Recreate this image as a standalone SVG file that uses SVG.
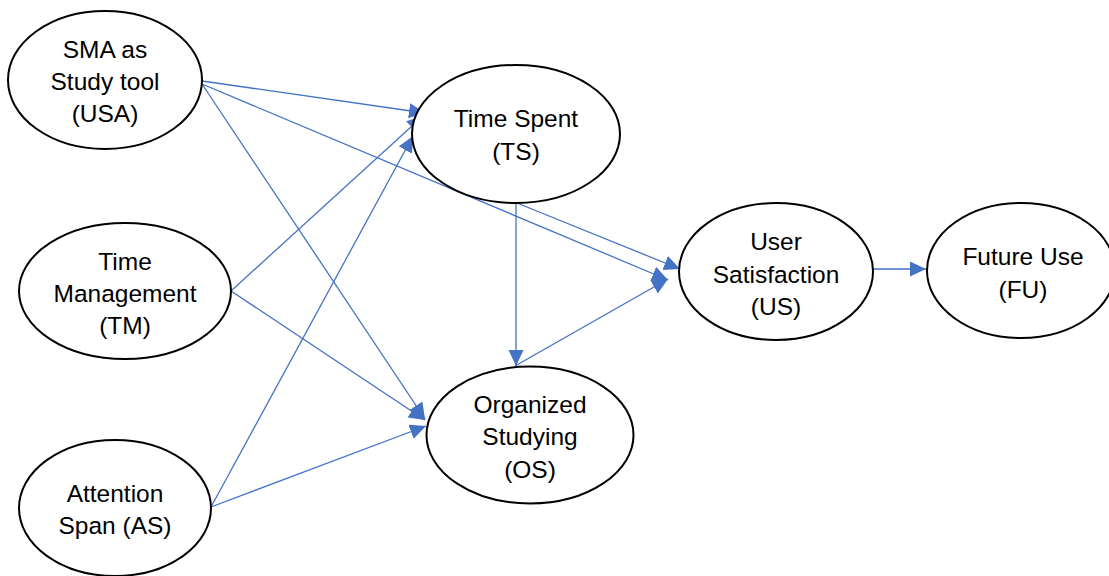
<svg xmlns="http://www.w3.org/2000/svg" width="1109" height="576" viewBox="0 0 1109 576">
<style>
.node ellipse{fill:#fff;stroke:#000;stroke-width:2}
.node text{font-family:"Liberation Sans",Arial,sans-serif;font-size:24.5px;fill:#000;text-anchor:middle}
.edges line{stroke:#4472C4;stroke-width:1.3;fill:none;marker-end:url(#ah)}
</style>
<defs>
<marker id="ah" markerUnits="userSpaceOnUse" markerWidth="17" markerHeight="16" refX="16" refY="7.5" orient="auto">
<path d="M0,0 L16,7.5 L0,15 Z" fill="#4472C4"/>
</marker>
</defs>
<rect width="1109" height="576" fill="#fff"/>
<g class="edges" id="connectors">
<line x1="202" y1="81" x2="425" y2="113"/>
<line x1="231" y1="291" x2="423" y2="116"/>
<line x1="211" y1="507" x2="413" y2="136"/>
<line x1="202" y1="84" x2="425" y2="419"/>
<line x1="231" y1="291" x2="425" y2="420"/>
<line x1="211" y1="507" x2="426" y2="426"/>
<line x1="202" y1="84" x2="668" y2="280"/>
<line x1="517" y1="203" x2="680" y2="269"/>
<line x1="516" y1="203" x2="516" y2="366"/>
<line x1="515" y1="366" x2="668" y2="279"/>
<line x1="873" y1="269" x2="926" y2="269"/>
</g>
<g class="node" id="USA">
<ellipse cx="105" cy="80" rx="97" ry="69"/>
<text x="105" y="58">SMA as</text>
<text x="105" y="90">Study tool</text>
<text x="105" y="122">(USA)</text>
</g>
<g class="node" id="TM">
<ellipse cx="125" cy="291" rx="106" ry="68"/>
<text x="125" y="270">Time</text>
<text x="125" y="302">Management</text>
<text x="125" y="334">(TM)</text>
</g>
<g class="node" id="AS">
<ellipse cx="115" cy="508" rx="96" ry="68"/>
<text x="115" y="502">Attention</text>
<text x="115" y="534">Span (AS)</text>
</g>
<g class="node" id="TS">
<ellipse cx="516" cy="134" rx="104" ry="69"/>
<text x="516" y="127">Time Spent</text>
<text x="516" y="160">(TS)</text>
</g>
<g class="node" id="OS">
<ellipse cx="530" cy="435" rx="103.5" ry="68.5"/>
<text x="530" y="413">Organized</text>
<text x="530" y="445">Studying</text>
<text x="530" y="478">(OS)</text>
</g>
<g class="node" id="US">
<ellipse cx="776" cy="271.5" rx="97" ry="68.5"/>
<text x="776" y="250">User</text>
<text x="776" y="283">Satisfaction</text>
<text x="776" y="315">(US)</text>
</g>
<g class="node" id="FU">
<ellipse cx="1021" cy="270.5" rx="94" ry="67.5"/>
<text x="1023" y="265">Future Use</text>
<text x="1023" y="298">(FU)</text>
</g>
</svg>
